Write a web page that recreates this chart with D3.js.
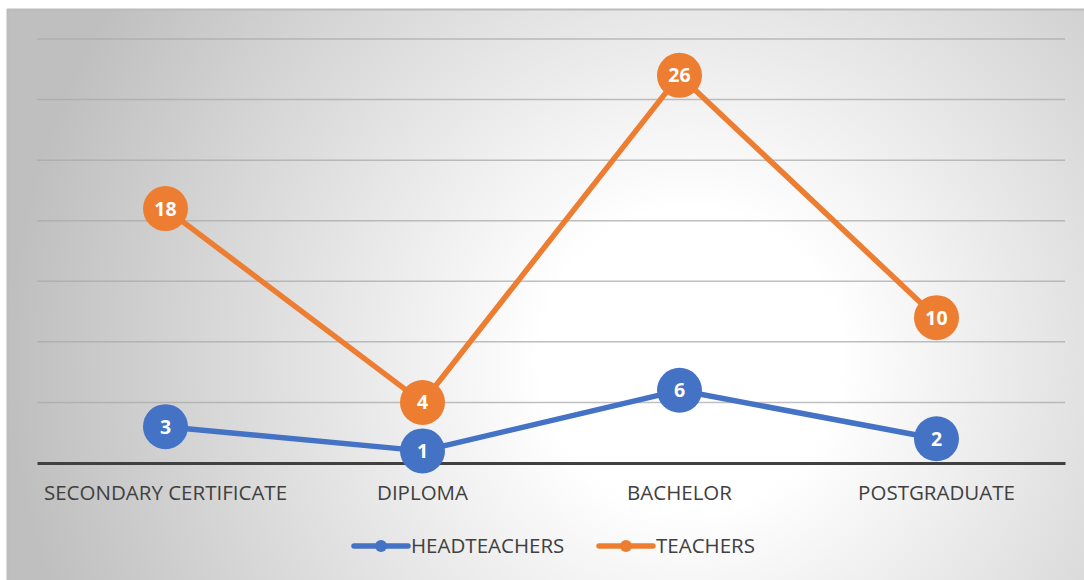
<!DOCTYPE html>
<meta charset="utf-8">
<head>
    <title>Headteachers and teachers by qualification</title>
    <style>
        body { margin: 0; background: #fff; }
        svg { display: block; }
    </style>
</head>
<body>
<svg width="1084" height="580"></svg>
<script src="https://d3js.org/d3.v7.min.js"></script>
<script>

    //chart data
    var categories = ["SECONDARY CERTIFICATE", "DIPLOMA", "BACHELOR", "POSTGRADUATE"];
    var headteachers = [3, 1, 6, 2];
    var teachers = [18, 4, 26, 10];
    var seriesNames = ["HEADTEACHERS", "TEACHERS"];
    var seriesColors = ["#4472c4", "#ed7d31"];
    var yTicks = [0, 5, 10, 15, 20, 25, 30, 35];

    var svg = d3.select("svg"),
            width = +svg.attr("width"),
            height = +svg.attr("height");

    //background gradient
    var defs = svg.append("defs");
    var grad = defs.append("radialGradient")
            .attr("id", "bg")
            .attr("gradientUnits", "userSpaceOnUse")
            .attr("cx", 690).attr("cy", 360).attr("r", 680);
    grad.append("stop").attr("offset", "0").attr("stop-color", "#ffffff");
    grad.append("stop").attr("offset", "0.22").attr("stop-color", "#ffffff");
    grad.append("stop").attr("offset", "1").attr("stop-color", "#bfbfbf");

    svg.append("rect")
            .attr("x", 7).attr("y", 9)
            .attr("width", width - 7).attr("height", height - 9)
            .attr("fill", "url(#bg)");
    svg.append("line")
            .attr("x1", 7).attr("x2", width).attr("y1", 9.5).attr("y2", 9.5)
            .attr("stroke", "#bcbcbc").attr("stroke-width", 2);
    svg.append("line")
            .attr("x1", 7.5).attr("x2", 7.5).attr("y1", 9).attr("y2", height)
            .attr("stroke", "#bcbcbc").attr("stroke-width", 2);

    var margin = {left: 37, right: 1065, top: 39, bottom: 463};

    var x = d3.scaleBand()
            .domain(categories)
            .range([margin.left, margin.right]);

    var y = d3.scaleLinear()
            .domain([0, 35])
            .range([margin.bottom, margin.top]);

    //gridlines
    svg.append("g")
            .selectAll("line")
            .data(yTicks.slice(1))
            .enter().append("line")
            .attr("x1", margin.left).attr("x2", margin.right)
            .attr("y1", function(d) { return y(d); })
            .attr("y2", function(d) { return y(d); })
            .attr("stroke", "#a9a9a9")
            .attr("stroke-opacity", 0.75)
            .attr("stroke-width", 1.5);

    //x axis
    var xAxis = svg.append("g")
            .attr("transform", "translate(0," + margin.bottom + ")")
            .call(d3.axisBottom(x).tickSize(0).tickPadding(22));
    xAxis.select(".domain")
            .attr("stroke", "#404040")
            .attr("stroke-width", 3);
    xAxis.selectAll("text")
            .attr("fill", "#404040")
            .style("font-family", "'Open Sans', sans-serif")
            .style("font-size", "20.5px");

    //stacked lines: teachers drawn on top of headteachers
    var stacked = [
        headteachers.map(function(v, i) { return {cat: categories[i], label: v, total: v}; }),
        teachers.map(function(v, i) { return {cat: categories[i], label: v, total: v + headteachers[i]}; })
    ];

    var line = d3.line()
            .x(function(d) { return x(d.cat) + x.bandwidth() / 2; })
            .y(function(d) { return y(d.total); });

    stacked.forEach(function(series, si) {
        var g = svg.append("g");
        g.append("path")
                .datum(series)
                .attr("d", line)
                .attr("fill", "none")
                .attr("stroke", seriesColors[si])
                .attr("stroke-width", 5.5)
                .attr("stroke-linejoin", "round");

        var pts = g.selectAll("g.pt")
                .data(series)
                .enter().append("g")
                .attr("transform", function(d) {
                    return "translate(" + (x(d.cat) + x.bandwidth() / 2) + "," + y(d.total) + ")";
                });
        pts.append("circle")
                .attr("r", 22.5)
                .attr("fill", seriesColors[si]);
        pts.append("text")
                .attr("text-anchor", "middle")
                .attr("dy", "0.36em")
                .attr("fill", "#fff")
                .style("font-family", "'Open Sans', sans-serif")
                .style("font-weight", "bold")
                .style("font-size", "19.5px")
                .text(function(d) { return d.label; });
    });

    //legend
    var legendX = [352, 597];
    var legend = svg.append("g")
            .selectAll("g")
            .data(seriesNames)
            .enter().append("g")
            .attr("transform", function(d, i) { return "translate(" + legendX[i] + ",546)"; });
    legend.append("line")
            .attr("x1", 2).attr("x2", 56)
            .attr("stroke", function(d, i) { return seriesColors[i]; })
            .attr("stroke-width", 5.5)
            .attr("stroke-linecap", "round");
    legend.append("circle")
            .attr("cx", 29).attr("r", 6)
            .attr("fill", function(d, i) { return seriesColors[i]; });
    legend.append("text")
            .attr("x", 59)
            .attr("dy", "0.36em")
            .attr("fill", "#404040")
            .style("font-family", "'Open Sans', sans-serif")
            .style("font-size", "20.5px")
            .text(function(d) { return d; });

</script>
</body>
